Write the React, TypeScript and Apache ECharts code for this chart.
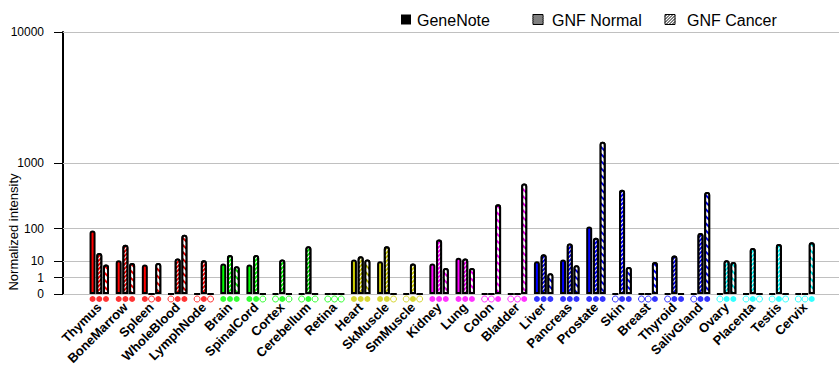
import React, { useEffect, useRef } from 'react';
import * as echarts from 'echarts';

const categories = ['Thymus', 'BoneMarrow', 'Spleen', 'WholeBlood', 'LymphNode', 'Brain', 'SpinalCord', 'Cortex', 'Cerebellum', 'Retina', 'Heart', 'SkMuscle', 'SmMuscle', 'Kidney', 'Lung', 'Colon', 'Bladder', 'Liver', 'Pancreas', 'Prostate', 'Skin', 'Breast', 'Thyroid', 'SalivGland', 'Ovary', 'Placenta', 'Testis', 'Cervix'];

const tissueColors = [
  '#ff0000', '#ff0000', '#ff0000', '#ff0000', '#ff0000',
  '#00ff00', '#00ff00', '#00ff00', '#00ff00', '#00ff00',
  '#cccc00', '#cccc00', '#cccc00',
  '#ff00ff', '#ff00ff', '#ff00ff', '#ff00ff',
  '#0000ff', '#0000ff', '#0000ff', '#0000ff', '#0000ff', '#0000ff', '#0000ff',
  '#00ffff', '#00ffff', '#00ffff', '#00ffff',
];

// null = no measurement (hollow marker), number = measured value (filled marker)
const geneNote = [90, 11, 7, null, null, 8, 7, null, null, null, 12, 10, null, 8, 14, null, null, 10, 12, 110, null, null, null, null, null, null, null, null];
const gnfNormal = [21, 39, null, 13, 11, 18, 18, 12, 35, null, 16, 35, 8, 54, 13, null, null, 19, 42, 60, 470, null, 17, 79, 11, 31, 41, null];
const gnfCancer = [7, 8.3, 8.3, 72, null, 5.7, null, null, null, null, 12, null, null, 4.6, 4.6, 284, 570, 2.2, 6.4, 1650, 5.2, 9.2, 0, 434, 9.2, null, null, 46];

const tickValues = [0, 1, 10, 100, 1000, 10000];
const seriesNames = ['GeneNote', 'GNF Normal', 'GNF Cancer'];

const EXP = Math.log10(2);
const scale = (v: number) => (v <= 0 ? 0 : Math.pow(v, EXP));

const FONT = 'Liberation Sans, Arial, sans-serif';

function hatchLines(x0: number, y0: number, size: number, step: number, dir: 'back' | 'fwd') {
  const els: any[] = [];
  for (let k = -size; k <= size * 2; k += step) {
    if (dir === 'back') {
      // y - x = k
      const xa = Math.max(0, -k), ya = xa + k;
      const xb = Math.min(size, size - k), yb = xb + k;
      if (xb <= xa) continue;
      els.push({ type: 'line', shape: { x1: x0 + xa, y1: y0 + ya, x2: x0 + xb, y2: y0 + yb }, style: { stroke: '#000', lineWidth: 1 } });
    } else {
      // x + y = k
      const xa = Math.max(0, k - size), ya = k - xa;
      const xb = Math.min(size, k), yb = k - xb;
      if (xb <= xa) continue;
      els.push({ type: 'line', shape: { x1: x0 + xa, y1: y0 + ya, x2: x0 + xb, y2: y0 + yb }, style: { stroke: '#000', lineWidth: 1 } });
    }
  }
  return els;
}

export default function App() {
  const ref = useRef<HTMLDivElement>(null);

  useEffect(() => {
    document.body.style.margin = '0';
    const chart = echarts.init(ref.current!, null, { renderer: 'svg' });

    const barWidth = 6;
    const barGap = 0.12;
    const spacing = barWidth * (1 + barGap);
    const allSeries = [geneNote, gnfNormal, gnfCancer];
    const decals: any[] = [
      null,
      { symbol: 'rect', symbolSize: 1, color: '#ffffff', dashArrayX: [1, 0], dashArrayY: [1, 2], rotation: -Math.PI / 4 },
      { symbol: 'rect', symbolSize: 1, color: '#ffffff', dashArrayX: [1, 0], dashArrayY: [3, 2], rotation: Math.PI / 4 },
    ];

    const barSeries = allSeries.map((vals, s) => ({
      type: 'bar',
      name: seriesNames[s],
      xAxisIndex: 0,
      yAxisIndex: 0,
      barWidth,
      barGap: `${barGap * 100}%`,
      z: 3,
      itemStyle: {
        borderColor: '#000',
        borderWidth: 2,
        borderRadius: [2, 2, 0, 0],
        ...(decals[s] ? { decal: decals[s] } : {}),
      },
      data: vals.map((v, i) => ({ value: scale(v ?? 0), itemStyle: { color: tissueColors[i] } })),
    }));

    const dotSeries = allSeries.map((vals, s) => ({
      type: 'scatter',
      xAxisIndex: 0,
      yAxisIndex: 0,
      symbol: 'circle',
      symbolSize: 6,
      symbolOffset: [(s - 1) * spacing, 5],
      clip: false,
      z: 4,
      silent: true,
      data: vals.map((v, i) => ({
        value: [i, 0],
        itemStyle: v !== null
          ? { color: tissueColors[i], borderWidth: 0 }
          : { color: '#ffffff', borderColor: tissueColors[i], borderWidth: 1 },
      })),
    }));

    const gridSeries = {
      type: 'line',
      xAxisIndex: 1,
      yAxisIndex: 1,
      data: [[0, 0]],
      showSymbol: false,
      symbol: 'none',
      lineStyle: { width: 0 },
      silent: true,
      z: 1,
      markLine: {
        silent: true,
        z: 1,
        symbol: ['none', 'none'],
        label: { show: false },
        lineStyle: { color: '#c0c0c0', type: 'solid', width: 1 },
        data: tickValues.map((t) => ({ yAxis: scale(t) })),
      },
    };

    const legendEls: any[] = [
      { type: 'rect', shape: { x: 401, y: 14.5, width: 10, height: 10 }, style: { fill: '#000' } },
      { type: 'text', x: 417, y: 20, style: { text: seriesNames[0], fontSize: 16, fontFamily: FONT, fill: '#000', verticalAlign: 'middle' } },
      { type: 'rect', shape: { x: 533, y: 14.5, width: 10, height: 10 }, style: { fill: '#fff', stroke: '#000', lineWidth: 1 } },
      ...hatchLines(533, 14.5, 10, 2, 'back'),
      { type: 'text', x: 552, y: 20, style: { text: seriesNames[1], fontSize: 16, fontFamily: FONT, fill: '#000', verticalAlign: 'middle' } },
      { type: 'rect', shape: { x: 665, y: 14.5, width: 10, height: 10 }, style: { fill: '#fff', stroke: '#000', lineWidth: 1 } },
      ...hatchLines(665, 14.5, 10, 3, 'fwd'),
      { type: 'text', x: 687, y: 20, style: { text: seriesNames[2], fontSize: 16, fontFamily: FONT, fill: '#000', verticalAlign: 'middle' } },
    ];

    const labelMap: Record<string, string> = {};
    tickValues.forEach((t) => { labelMap[String(scale(t))] = String(t); });

    chart.setOption({
      animation: false,
      textStyle: { fontFamily: FONT },
      grid: [
        { left: 86.2, top: 32, width: 731.9, height: 262 },
        { left: 63, top: 32, right: 1, height: 262 },
      ],
      xAxis: [
        {
          type: 'category',
          gridIndex: 0,
          data: categories,
          axisLine: { show: false },
          axisTick: { show: false },
          axisLabel: {
            interval: 0,
            rotate: 45,
            margin: 11,
            color: '#000',
            fontSize: 13,
            fontWeight: 'bold',
            fontFamily: FONT,
          },
        },
        { type: 'value', gridIndex: 1, min: 0, max: 1, show: false },
      ],
      yAxis: [
        { type: 'value', gridIndex: 0, min: 0, max: scale(10000), show: false },
        {
          type: 'value',
          gridIndex: 1,
          min: 0,
          max: scale(10000),
          interval: 1,
          axisLine: { show: true, lineStyle: { color: '#000', width: 2 } },
          axisTick: { show: true, length: 9, lineStyle: { color: '#000', width: 1 }, customValues: tickValues.map(scale) },
          axisLabel: {
            color: '#000',
            fontSize: 12,
            fontFamily: FONT,
            margin: 19,
            customValues: tickValues.map(scale),
            formatter: (v: number) => {
              const key = String(v);
              if (labelMap[key] !== undefined) return labelMap[key];
              const idx = tickValues.findIndex((t) => Math.abs(scale(t) - v) < 1e-6);
              return idx >= 0 ? String(tickValues[idx]) : '';
            },
          },
          splitLine: { show: false },
        },
      ],
      graphic: [
        ...legendEls,
        {
          type: 'text',
          x: 13,
          y: 232,
          rotation: Math.PI / 2,
          style: { text: 'Normalized intensity', fontSize: 13, fontFamily: FONT, fill: '#000', align: 'center', verticalAlign: 'middle' },
        },
      ],
      series: [gridSeries, ...barSeries, ...dotSeries],
    });

    return () => chart.dispose();
  }, []);

  return <div ref={ref} style={{ width: 840, height: 385 }} />;
}
